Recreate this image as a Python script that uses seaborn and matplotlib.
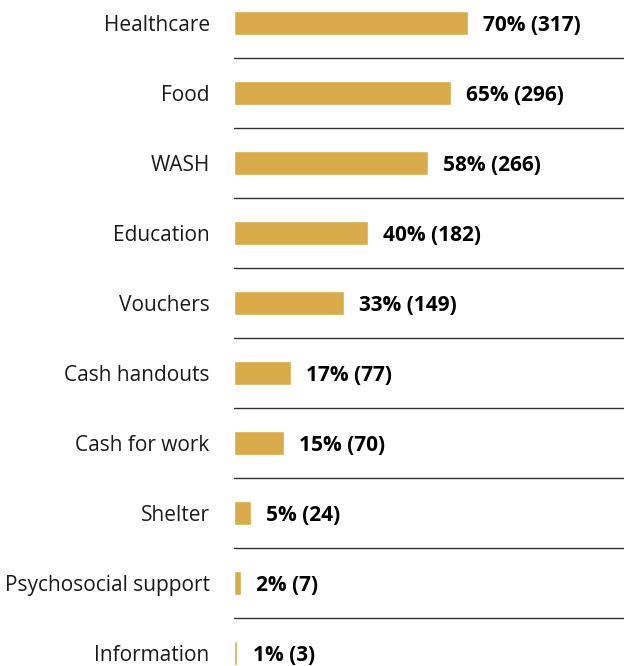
import matplotlib
matplotlib.use("Agg")
import matplotlib.pyplot as plt
import seaborn as sns
import pandas as pd

categories = ['Healthcare', 'Food', 'WASH', 'Education', 'Vouchers',
              'Cash handouts', 'Cash for work', 'Shelter',
              'Psychosocial support', 'Information']
percents = [70, 65, 58, 40, 33, 17, 15, 5, 2, 1]
counts = [317, 296, 266, 182, 149, 77, 70, 24, 7, 3]

df = pd.DataFrame({'category': categories, 'percent': percents, 'count': counts})

sns.set_style('white')
plt.rcParams['font.family'] = ['Open Sans', 'DejaVu Sans']

fig = plt.figure(figsize=(6.24, 6.66), dpi=100)
ax = fig.add_axes([234 / 624, 0, 390 / 624, 1])

sns.barplot(data=df, y='category', x='percent', orient='h', color='#D9AB4A',
            saturation=1, width=0.33, ax=ax)

ax.set_xlim(0, 116.8)
ax.set_ylim(9.186, -0.329)

# separators between rows
for i in range(len(categories) - 1):
    ax.axhline(i + 0.5, color='#333333', linewidth=1.0)

labels = [f'{p}% ({c})' for p, c in zip(percents, counts)]
texts = ax.bar_label(ax.containers[0], labels=labels, padding=11,
                     fontsize=15, fontweight='bold', color='black')
for t in texts:
    t.set_va('center_baseline')

ax.set_xlabel('')
ax.set_ylabel('')
ax.set_xticks([])
ax.tick_params(axis='y', left=False, pad=14, labelsize=15, labelcolor='#1a1a1a')
sns.despine(ax=ax, left=True, bottom=True)

fig.savefig('out.png', dpi=100)
